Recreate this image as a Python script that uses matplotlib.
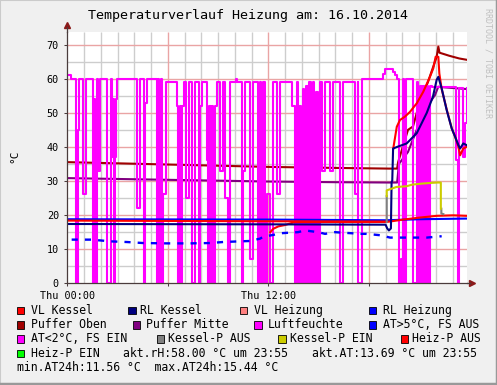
import numpy as np
import matplotlib
matplotlib.use('Agg')
import matplotlib.pyplot as plt
from matplotlib.patches import Rectangle
from matplotlib.lines import Line2D

W, H = 497, 385
MONO = 'DejaVu Sans Mono'
X_MAX = 23.88          # hours shown on the time axis
Y_MAX = 73.7

# ── Data (hours since Thu 00:00 / °C or %rH) ─────────────────
# Luftfeuchte, step data
hum_t = [0.00, 0.20,
         0.52, 0.62, 0.72, 0.92, 1.12,
         1.52, 1.60, 1.66, 1.76, 1.81, 1.95,
         2.39, 2.59, 2.65, 2.72, 2.78, 2.84, 2.92, 2.99,
         4.14, 4.34, 4.58, 4.66, 4.74,
         5.34, 5.42, 5.48, 5.58, 5.64, 5.72, 5.89,
         6.55, 6.63, 6.71, 6.79, 6.87, 6.97,
         7.09, 7.28, 7.46, 7.62, 7.86, 7.94, 8.04,
         8.32, 8.40, 8.48, 8.56, 8.64, 8.72, 8.80, 8.92,
         9.12, 9.28, 9.41, 9.58, 9.71, 10.08, 10.16,
         10.42, 10.50, 10.61, 10.91, 11.11,
         11.40, 11.48, 11.56, 11.70, 11.80, 11.92, 12.10, 12.30,
         12.50, 12.70, 13.40, 13.58, 13.70,
         13.75, 13.85, 13.95, 14.05, 14.15, 14.25, 14.35, 14.45, 14.55, 14.65,
         14.75, 14.85, 14.95, 15.09,
         15.19, 15.39, 15.69, 15.88, 16.28, 16.48,
         17.18, 17.33, 17.37, 17.61,
         18.87, 18.97, 19.45, 19.57, 19.69,
         19.82, 19.90, 19.98, 20.06, 20.12, 20.20,
         20.66, 20.86,
         20.96, 21.06, 21.16, 21.26, 21.36, 21.46, 21.56, 21.66, 21.76,
         23.21, 23.30, 23.40, 23.64, 23.74, 23.84, 23.88]
hum_v = [61, 60,
         0, 45, 60, 26, 60,
         0, 54, 0, 60, 33, 60,
         0, 60, 37, 54, 0, 37, 54, 60,
         22, 60, 0, 53, 60,
         0, 60, 0, 60, 0, 26, 59,
         52, 0, 52, 0, 52, 59,
         25, 59, 0, 59, 0, 52, 59,
         36, 0, 52, 0, 52, 0, 52, 59,
         33, 59, 25, 0, 59, 60, 59,
         0, 33, 59, 7, 59,
         0, 59, 0, 59, 0, 26, 0, 59,
         26, 59, 52, 0, 59,
         0, 52, 0, 57, 0, 58, 0, 59, 0, 59,
         0, 56, 0, 59,
         33, 59, 33, 59, 0, 59,
         26, 59, 0, 60,
         61.5, 63, 62, 61, 60,
         0, 7, 0, 60, 0, 60,
         0, 59,
         0, 58, 0, 58, 0, 58, 0, 58, 57.7,
         36, 0, 57.4, 37, 47, 57.2, 57.2]

# Puffer Oben
po_t = [0, 6, 12, 16, 19.2, 19.69, 19.75, 20.34, 20.64, 20.94, 21.54, 22.05, 22.15, 22.22, 22.8, 23.4, 23.86]
po_v = [35.5, 34.8, 34.1, 33.8, 33.6, 33.6, 35.5, 45.0, 46.0, 51.4, 59.2, 66.5, 69.5, 67.7, 66.8, 66.0, 65.6]

# Puffer Mitte
pm_t = [0, 6, 12, 16, 19.2, 19.69, 19.8, 20.34, 20.86, 21.46, 21.95, 22.15, 22.5, 23.86]
pm_v = [30.8, 30.3, 29.8, 29.6, 29.5, 29.5, 35.0, 38.5, 45.0, 51.8, 55.2, 57.7, 57.5, 57.0]

# RL Kessel
rk_t = [0, 12, 19.0, 19.1, 19.2, 19.32, 19.36, 19.40, 19.45, 19.7, 20.26, 20.86, 21.46, 21.83,
        22.05, 22.15, 22.35, 22.65, 22.95, 23.15, 23.35, 23.45, 23.64, 23.84]
rk_v = [17.3, 17.2, 17.1, 16.0, 15.4, 16.0, 29.7, 30.0, 39.5, 40.0, 41.0, 44.0, 50.0, 54.8,
        59.7, 60.6, 57.2, 50.8, 45.4, 43.0, 40.5, 39.5, 41.0, 40.5]

# VL Kessel (gap while sensor jumps)
vlk_t = [0, 6, 12, 19.05, np.nan, 19.46, 19.67, 19.86, 20.16, 20.46, 20.86, 21.25, 21.65, 21.85,
         21.99, 22.15, 22.21, 22.35, 22.65, 22.95, 23.15, 23.35, 23.45, 23.64, 23.84]
vlk_v = [18.3, 18.2, 18.1, 18.0, np.nan, 39.5, 45.9, 47.9, 48.9, 50.3, 52.8, 56.2, 60.6, 63.1,
         66.5, 66.5, 61.6, 57.0, 51.0, 45.5, 43.0, 40.0, 37.5, 39.5, 40.0]

# RL Heizung
rlh_t = [0, 12, 19.0, 21.0, 23.86]
rlh_v = [18.7, 18.6, 18.4, 18.7, 18.9]

# Heiz-P AUS
hpa_t = [12.12, 12.3, 12.6, 13.0, 13.6, 19.07, 20.06, 21.06, 22.05, 23.04, 23.86]
hpa_v = [14.9, 15.9, 16.6, 17.0, 17.9, 17.9, 18.6, 19.2, 19.7, 19.85, 19.7]

# Kessel-P AUS / EIN
kpa_t = [19.07, 19.07, np.nan, 22.33, 22.33, 22.45]
kpa_v = [17.9, 25.5, np.nan, 21.8, 20.4, 20.2]
kpe_t = [19.07, 19.07, 19.25, 19.65, 20.25, 20.6, 21.2, 21.75, 22.1, 22.30, 22.30]
kpe_v = [25.5, 27.2, 27.5, 28.2, 28.4, 28.9, 29.2, 29.4, 29.5, 29.5, 21.8]

# Aussentemperatur
at_t = [0.26, 1.46, 2.55, 3.55, 4.52, 5.93, 7.33, 8.52, 9.30, 10.31, 10.91, 11.51, 11.68,
        12.20, 12.80, 13.77, 14.19, 14.97, 15.39, 15.98, 16.58, 17.58, 17.87, 18.67, 19.27,
        20.04, 21.46, 22.35]
at_v = [12.7, 12.7, 12.2, 12.0, 11.7, 11.6, 11.6, 11.7, 12.0, 12.2, 12.3, 13.0, 13.5,
        14.0, 14.6, 14.9, 15.4, 14.9, 14.4, 14.9, 14.7, 14.4, 14.4, 14.0, 13.3,
        13.3, 13.3, 13.7]

legend_rows = [
    [('VL Kessel', '#ff0000'), ('RL Kessel', '#000080'), ('VL Heizung', '#ff8080'), ('RL Heizung', '#0000ff')],
    [('Puffer Oben', '#a00000'), ('Puffer Mitte', '#800080'), ('Luftfeuchte', '#ff00ff'), ('AT>5°C, FS AUS', '#0000ff')],
    [('AT<2°C, FS EIN', '#ff00ff'), ('Kessel-P AUS', '#808080'), ('Kessel-P EIN', '#cccc00'), ('Heiz-P AUS', '#ff0000')],
    [('Heiz-P EIN', '#00ff00')],
]
# square left / text left per entry (pixels)
legend_pos = [
    [(16.7, 31), (128.3, 140.0), (240, 254), (369, 382.7)],
    [(16.7, 31), (132.7, 145.7), (254.3, 267.7), (369, 382.7)],
    [(16.7, 31), (156.7, 167.8), (278.3, 289.6), (400.7, 411.8)],
    [(16.7, 31)],
]
legend_y = [310.7, 325, 339, 353.3, 367.3]
info_texts = [('akt.rH:58.00 °C um 23:55', 123.3, 3), ('akt.AT:13.69 °C um 23:55', 312.3, 3),
              ('min.AT24h:11.56 °C  max.AT24h:15.44 °C', 16.7, 4)]


def fx(x):
    return x / W


def fy(y):
    return 1 - y / H


# ── Figure ────────────────────────────────────────────────────
fig = plt.figure(figsize=(W / 100, H / 100), dpi=100, facecolor='#f0f0f0')
left, right, top, bottom = 67.3, 467.3, 32.3, 282.8
ax = fig.add_axes([fx(left), fy(bottom), (right - left) / W, (bottom - top) / H])
ax.set_facecolor('white')
ax.set_xlim(0, X_MAX)
ax.set_ylim(0, Y_MAX)

# grid (minor grey each hour / 5 °C, major red each 6 h / 10 °C)
GRID, MGRID = '#cdcdcd', '#eaa4a4'
ax.vlines([h for h in range(1, 24) if h % 6], 0, Y_MAX, colors=GRID, lw=1.0, zorder=0.2)
ax.hlines(list(range(5, 75, 10)), 0, X_MAX, colors=GRID, lw=1.0, zorder=0.2)
ax.vlines([6, 12, 18], 0, Y_MAX, colors=MGRID, lw=1.0, zorder=0.5)
ax.hlines(list(range(10, 80, 10)), 0, X_MAX, colors=MGRID, lw=1.0, zorder=0.5)

LW = 1.5
ax.plot(po_t, po_v, color='#a00000', lw=LW)
ax.plot(pm_t, pm_v, color='#800080', lw=LW)
ax.step(hum_t, hum_v, where='post', color='#ff00ff', lw=LW)
ax.plot(rlh_t, rlh_v, color='#0000ff', lw=LW)
ax.plot(vlk_t, vlk_v, color='#ff0000', lw=LW)
ax.plot(hpa_t, hpa_v, color='#ff0000', lw=LW)
ax.plot(rk_t, rk_v, color='#000080', lw=LW)
ax.plot(kpa_t, kpa_v, color='#808080', lw=LW)
ax.plot(kpe_t, kpe_v, color='#cccc00', lw=LW)
ax.plot(at_t, at_v, color='#0000ff', lw=1.7, ls=(0, (2.6, 3.0)))

# axes / ticks
for s in ('top', 'right'):
    ax.spines[s].set_visible(False)
for s in ('left', 'bottom'):
    ax.spines[s].set_color('#4a3c3c')
    ax.spines[s].set_linewidth(0.9)
ax.set_yticks(range(0, 80, 10))
ax.set_xticks([0, 6, 12, 18])
ax.set_xticklabels(['Thu 00:00', '', 'Thu 12:00', ''])
ax.tick_params(length=2, width=0.75, color='#4a3c3c', labelsize=7.3, pad=4)
for lab in ax.get_xticklabels() + ax.get_yticklabels():
    lab.set_fontfamily(MONO)

# arrows at axis ends
fig.add_artist(Line2D([fx(right), fx(470)], [fy(bottom), fy(bottom)], color='#4a3c3c', lw=0.9))
ax.plot([1.0 + 4.5 / 400], [0], marker='>', ms=5, color='#8b1a1a', transform=ax.transAxes, clip_on=False)
fig.add_artist(Line2D([fx(left), fx(left)], [fy(top), fy(27)], color='#4a3c3c', lw=0.9))
ax.plot([0], [1.0 + 7 / 250.5], marker='^', ms=5, color='#8b1a1a', transform=ax.transAxes, clip_on=False)

# texts
fig.text(fx(248), fy(16), 'Temperaturverlauf Heizung am: 16.10.2014', family=MONO,
         fontsize=9.6, ha='center', va='center')
fig.text(fx(14), fy(156), '°C', family=MONO, fontsize=8, rotation=90, ha='center', va='center')
fig.text(fx(488), fy(8), 'RRDTOOL / TOBI OETIKER', family=MONO, fontsize=6, rotation=270,
         ha='center', va='top', color='#c0c0c0')

# legend
for row, pos, y in zip(legend_rows, legend_pos, legend_y):
    for (label, col), (sx, tx) in zip(row, pos):
        fig.add_artist(Rectangle((fx(sx), fy(y + 3.6)), 7.3 / W, 7.3 / H, facecolor=col,
                                 edgecolor='#000000', lw=0.6))
        fig.text(fx(tx), fy(y), label, family=MONO, fontsize=8.3, va='center', ha='left')
for txt, x, r in info_texts:
    fig.text(fx(x), fy(legend_y[r]), txt, family=MONO, fontsize=8.3, va='center', ha='left')

# 3d-ish border
fig.add_artist(Line2D([0, 0, 1], [0, 1, 1], color='#cbcbcb', lw=1.5, transform=fig.transFigure))
fig.add_artist(Line2D([0, 1, 1], [0.002, 0.002, 1], color='#999999', lw=2.5, transform=fig.transFigure))

fig.savefig('out.png', dpi=100, facecolor=fig.get_facecolor())
